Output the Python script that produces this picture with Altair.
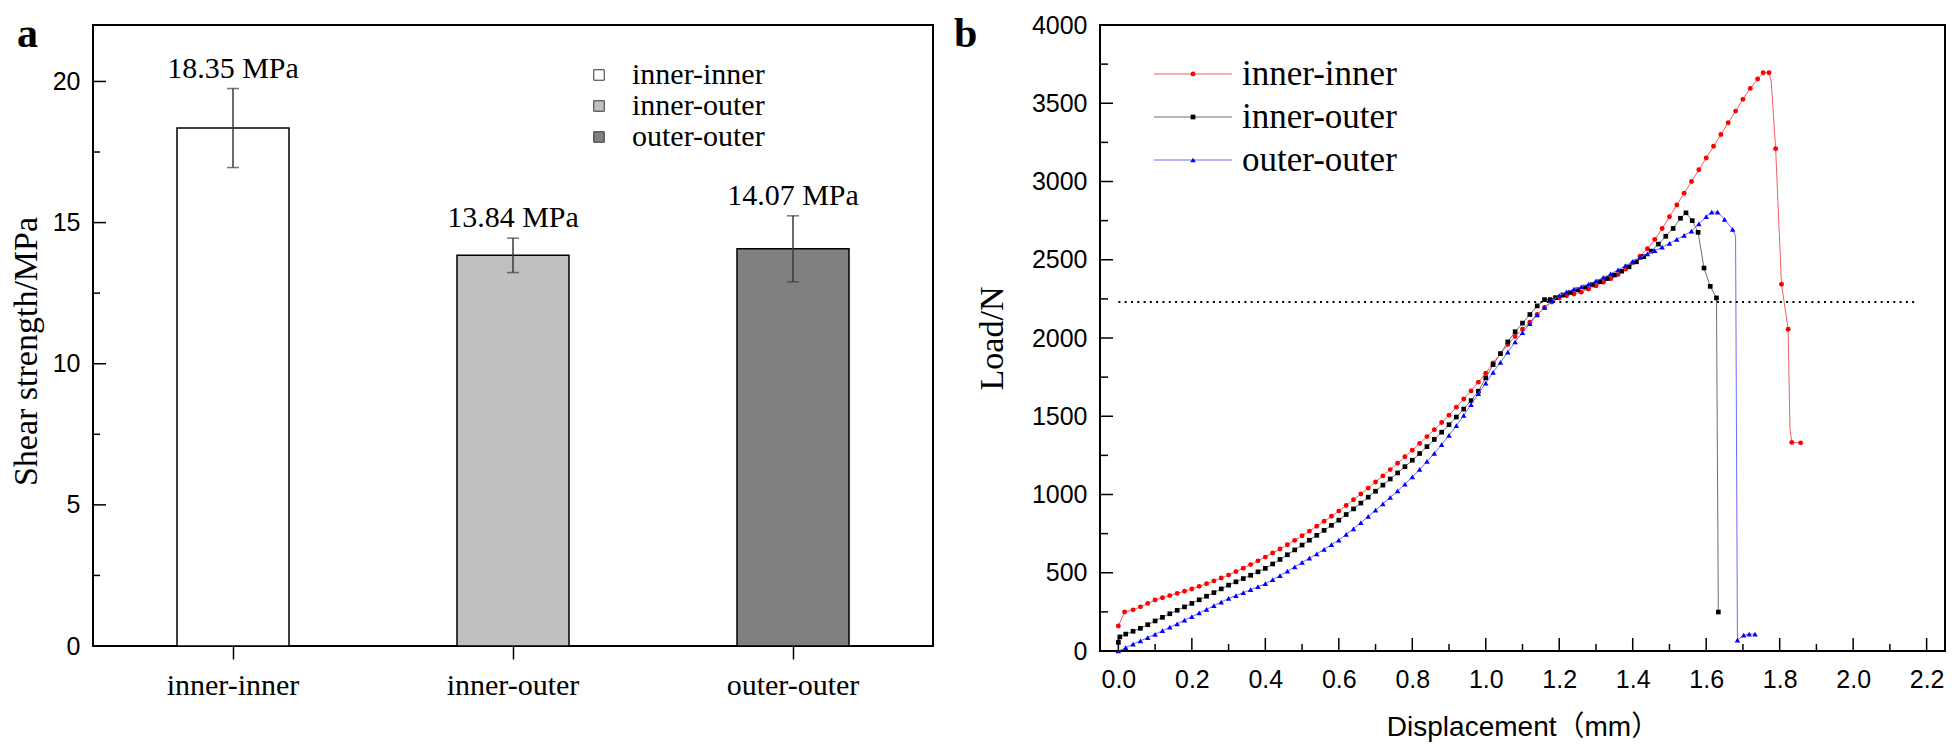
import altair as alt
import pandas as pd

SERIF = "Liberation Serif"
SANS = "Liberation Sans, Noto Sans CJK SC"

# ---------------- panel a data ----------------
categories = ["inner-inner", "inner-outer", "outer-outer"]
shear_strength = [18.35, 13.84, 14.07]
shear_error = [1.40, 0.61, 1.17]
bar_colors = ["#ffffff", "#c0c0c0", "#808080"]
value_labels = ["18.35 MPa", "13.84 MPa", "14.07 MPa"]
a_major_ticks = [0, 5, 10, 15, 20]
a_minor_ticks = [2.5, 7.5, 12.5, 17.5]

# ---------------- panel b data ----------------
ii_x = [0.000, 0.017, 0.04, 0.06, 0.08, 0.10, 0.12, 0.14, 0.16, 0.18, 0.20, 0.22, 0.24, 0.26, 0.28,
        0.30, 0.32, 0.34, 0.36, 0.38, 0.40, 0.42, 0.44, 0.46, 0.48, 0.50, 0.52, 0.54, 0.56, 0.58,
        0.60, 0.62, 0.64, 0.66, 0.68, 0.70, 0.72, 0.74, 0.76, 0.78, 0.80, 0.82, 0.84, 0.86, 0.88,
        0.90, 0.92, 0.94, 0.96, 0.98, 1.00, 1.02, 1.04, 1.06, 1.08, 1.10, 1.12, 1.14, 1.16, 1.18,
        1.20, 1.22, 1.24, 1.26, 1.28, 1.30, 1.32, 1.34, 1.36, 1.38, 1.40, 1.42, 1.44, 1.46, 1.48,
        1.50, 1.52, 1.54, 1.56, 1.58, 1.60, 1.62, 1.64, 1.66, 1.68, 1.70, 1.72, 1.74, 1.755, 1.771,
        1.789, 1.805, 1.823, 1.833, 1.857]
ii_load = [160, 249, 263, 282, 304, 326, 340, 354, 368, 382, 396, 413, 430, 448, 466,
           485, 507, 529, 552, 576, 600, 626, 652, 679, 707, 736, 766, 797, 829, 861,
           894, 930, 966, 1003, 1041, 1080, 1119, 1159, 1200, 1241, 1283, 1326, 1370, 1414, 1460,
           1506, 1558, 1610, 1662, 1718, 1775, 1840, 1900, 1958, 2010, 2056, 2101, 2150, 2195, 2230,
           2255, 2270, 2281, 2293, 2313, 2333, 2356, 2379, 2405, 2440, 2480, 2523, 2570, 2630, 2700,
           2775, 2850, 2925, 3000, 3075, 3150, 3225, 3300, 3375, 3450, 3525, 3595, 3655, 3695, 3695,
           3210, 2343, 2056, 1333, 1330]
ii_bend_x = [1.777, 1.828]
ii_bend_load = [3640, 1420]

io_x = [0.000, 0.004, 0.02, 0.04, 0.06, 0.08, 0.10, 0.12, 0.14, 0.16, 0.18, 0.20, 0.22, 0.24, 0.26,
        0.28, 0.30, 0.32, 0.34, 0.36, 0.38, 0.40, 0.42, 0.44, 0.46, 0.48, 0.50, 0.52, 0.54, 0.56,
        0.58, 0.60, 0.62, 0.64, 0.66, 0.68, 0.70, 0.72, 0.74, 0.76, 0.78, 0.80, 0.82, 0.84, 0.86,
        0.88, 0.90, 0.92, 0.94, 0.96, 0.98, 1.00, 1.02, 1.04, 1.06, 1.08, 1.10, 1.12, 1.14, 1.16,
        1.175, 1.19, 1.21, 1.23, 1.25, 1.27, 1.29, 1.31, 1.33, 1.35, 1.37, 1.39, 1.41, 1.43, 1.45,
        1.47, 1.49, 1.51, 1.53, 1.545, 1.562, 1.578, 1.594, 1.611, 1.628, 1.633]
io_load = [55, 90, 108, 126, 145, 168, 192, 215, 238, 260, 282, 304, 327, 350, 373,
           397, 421, 442, 463, 484, 506, 528, 556, 585, 615, 646, 677, 708, 739, 771,
           803, 836, 872, 908, 945, 983, 1021, 1060, 1099, 1138, 1178, 1219, 1262, 1306, 1352,
           1398, 1446, 1495, 1546, 1600, 1660, 1745, 1830, 1900, 1975, 2040, 2095, 2150, 2205, 2245,
           2245, 2258, 2275, 2292, 2308, 2325, 2342, 2360, 2380, 2402, 2427, 2455, 2487, 2520, 2555,
           2600, 2650, 2700, 2765, 2800, 2750, 2675, 2447, 2330, 2256, 249]

oo_x = [0.00, 0.02, 0.04, 0.06, 0.08, 0.10, 0.12, 0.14, 0.16, 0.18, 0.20, 0.22, 0.24, 0.26, 0.28,
        0.30, 0.32, 0.34, 0.36, 0.38, 0.40, 0.42, 0.44, 0.46, 0.48, 0.50, 0.52, 0.54, 0.56, 0.58,
        0.60, 0.62, 0.64, 0.66, 0.68, 0.70, 0.72, 0.74, 0.76, 0.78, 0.80, 0.82, 0.84, 0.86, 0.88,
        0.90, 0.92, 0.94, 0.96, 0.98, 1.00, 1.02, 1.04, 1.06, 1.08, 1.10, 1.12, 1.14, 1.16, 1.18,
        1.20, 1.22, 1.24, 1.26, 1.28, 1.30, 1.32, 1.34, 1.36, 1.38, 1.40, 1.42, 1.44, 1.46, 1.48,
        1.50, 1.52, 1.54, 1.56, 1.58, 1.60, 1.615, 1.631, 1.650, 1.672, 1.685, 1.702, 1.717, 1.733]
oo_load = [0, 22, 44, 65, 86, 107, 130, 152, 174, 197, 219, 243, 266, 290, 313,
           336, 354, 373, 392, 411, 430, 456, 482, 510, 538, 566, 593, 621, 650, 679,
           709, 745, 781, 820, 860, 900, 940, 981, 1023, 1067, 1112, 1161, 1211, 1263, 1319,
           1378, 1440, 1505, 1575, 1645, 1712, 1780, 1845, 1910, 1975, 2035, 2092, 2148, 2195, 2238,
           2270, 2295, 2312, 2327, 2345, 2365, 2387, 2410, 2435, 2462, 2490, 2515, 2538, 2558, 2580,
           2605, 2630, 2655, 2683, 2730, 2775, 2805, 2805, 2758, 2694, 70, 102, 108, 108]
oo_bend_x = [1.680]
oo_bend_load = [2650]

series_names = ["inner-inner", "inner-outer", "outer-outer"]
line_colors = ["#f06060", "#707070", "#6a6aff"]
marker_colors = ["#ff0000", "#000000", "#0000ff"]
marker_shapes = ["circle", "square", "triangle-up"]
marker_sizes = [24, 22, 30]

ref_load = 2230
ref_x = [0.0, 2.17]

b_x_major = [0.0, 0.2, 0.4, 0.6, 0.8, 1.0, 1.2, 1.4, 1.6, 1.8, 2.0, 2.2]
b_x_minor = [0.1, 0.3, 0.5, 0.7, 0.9, 1.1, 1.3, 1.5, 1.7, 1.9, 2.1]
b_y_major = [0, 500, 1000, 1500, 2000, 2500, 3000, 3500, 4000]
b_y_minor = [250, 750, 1250, 1750, 2250, 2750, 3250, 3750]

TAG_SIZE = 42
TAG_Y = 22

# ---------------- panel a ----------------
WA, HA = 840, 621
dfa = pd.DataFrame({"cat": categories, "v": shear_strength, "e": shear_error, "lab": value_labels})
dfa["lo"] = dfa["v"] - dfa["e"]
dfa["hi"] = dfa["v"] + dfa["e"]

xa = alt.X("cat:N", sort=categories,
           scale=alt.Scale(paddingInner=0.6, paddingOuter=0.3),
           axis=alt.Axis(title=None, labelAngle=0, labelFont=SERIF, labelFontSize=30,
                         labelColor="black", tickSize=13, tickWidth=1.5, tickColor="black",
                         domain=False, labelPadding=11))
ya_scale = alt.Scale(domain=[0, 22], nice=False)

bars = alt.Chart(dfa).mark_bar(stroke="black", strokeWidth=1.5).encode(
    x=xa,
    y=alt.Y("v:Q", scale=ya_scale,
            axis=alt.Axis(values=a_major_ticks, ticks=False, tickSize=0, domain=False, grid=False,
                          labelFont=SANS, labelFontSize=25, labelColor="black", labelPadding=13,
                          title="Shear strength/MPa", titleFont=SERIF, titleFontSize=34,
                          titleFontWeight="normal", titleColor="black", titlePadding=9,
                          titleY=326)),
    fill=alt.Fill("cat:N", sort=categories,
                  scale=alt.Scale(domain=categories, range=bar_colors),
                  legend=alt.Legend(orient="none", legendX=491, legendY=35, title=None,
                                    symbolType="square", symbolSize=110,
                                    symbolStrokeColor="#333333", symbolStrokeWidth=1,
                                    labelFont=SERIF, labelFontSize=30, labelColor="black",
                                    rowPadding=1, padding=0, labelOffset=18)),
)
err_rule = alt.Chart(dfa).mark_rule(color="#3a3a3a", strokeWidth=1.5).encode(
    x=alt.X("cat:N", sort=categories), y="lo:Q", y2="hi:Q")
cap_hi = alt.Chart(dfa).mark_tick(color="#3a3a3a", thickness=1.5, size=12).encode(
    x=alt.X("cat:N", sort=categories), y="hi:Q")
cap_lo = alt.Chart(dfa).mark_tick(color="#3a3a3a", thickness=1.5, size=12).encode(
    x=alt.X("cat:N", sort=categories), y="lo:Q")
val_text = alt.Chart(dfa).mark_text(font=SERIF, fontSize=30, baseline="alphabetic", dy=-11,
                                    color="black").encode(
    x=alt.X("cat:N", sort=categories), y="hi:Q", text="lab:N")
a_maj = alt.Chart(pd.DataFrame({"t": a_major_ticks})).mark_rule(color="black", strokeWidth=1.5).encode(
    y="t:Q", x=alt.value(0), x2=alt.value(13))
a_min = alt.Chart(pd.DataFrame({"t": a_minor_ticks})).mark_rule(color="black", strokeWidth=1.5).encode(
    y="t:Q", x=alt.value(0), x2=alt.value(7))
a_tag = alt.Chart(pd.DataFrame({"t": ["a"]})).mark_text(
    font=SERIF, fontSize=TAG_SIZE, fontWeight="bold", align="left", baseline="alphabetic",
    color="black").encode(text="t:N", x=alt.value(-76), y=alt.value(TAG_Y))

panel_a = alt.layer(bars, err_rule, cap_hi, cap_lo, val_text, a_maj, a_min, a_tag).properties(
    width=WA, height=HA)

# ---------------- panel b ----------------
WB, HB = 845, 626
xb_scale = alt.Scale(domain=[-0.05, 2.25], nice=False, zero=False)
yb_scale = alt.Scale(domain=[0, 4000], nice=False)
xb_axis = alt.Axis(values=b_x_major, format=".1f", ticks=False, tickSize=0, domain=False, grid=False,
                   labelFont=SANS, labelFontSize=25, labelColor="black", labelPadding=16,
                   labelFlush=False, labelOverlap=False,
                   title="Displacement（mm）", titleFont=SANS, titleFontSize=28,
                   titleFontWeight="normal", titleColor="black", titlePadding=21)
yb_axis = alt.Axis(values=b_y_major, format="d", ticks=False, tickSize=0, domain=False, grid=False,
                   labelFont=SANS, labelFontSize=25, labelColor="black", labelPadding=13,
                   labelFlush=False, labelOverlap=False,
                   title="Load/N", titleFont=SERIF, titleFontSize=34, titleFontWeight="normal",
                   titleColor="black", titlePadding=22)

all_series = [
    (ii_x, ii_load, ii_bend_x, ii_bend_load),
    (io_x, io_load, [], []),
    (oo_x, oo_load, oo_bend_x, oo_bend_load),
]

b_layers = []
first = True
for k, (sx, sy, bx, by) in enumerate(all_series):
    pts = pd.DataFrame({"x": sx, "load": sy})
    line_df = pd.DataFrame({"x": list(sx) + list(bx), "load": list(sy) + list(by)})
    line_df = line_df.sort_values("x").reset_index(drop=True)
    line_df["i"] = range(len(line_df))
    if first:
        xe = alt.X("x:Q", scale=xb_scale, axis=xb_axis)
        ye = alt.Y("load:Q", scale=yb_scale, axis=yb_axis)
        first = False
    else:
        xe = alt.X("x:Q")
        ye = alt.Y("load:Q")
    b_layers.append(alt.Chart(line_df).mark_line(color=line_colors[k], strokeWidth=1).encode(
        x=xe, y=ye, order="i:Q"))
    b_layers.append(alt.Chart(pts).mark_point(shape=marker_shapes[k], filled=True, opacity=1,
                                              size=marker_sizes[k], color=marker_colors[k]).encode(
        x="x:Q", y="load:Q"))

ref_line = alt.Chart(pd.DataFrame({"x": [ref_x[0]], "x2": [ref_x[1]], "load": [ref_load]})).mark_rule(
    color="black", strokeWidth=2, strokeDash=[2, 4.3]).encode(x="x:Q", x2="x2:Q", y="load:Q")

bx_maj = alt.Chart(pd.DataFrame({"t": b_x_major})).mark_rule(color="black", strokeWidth=1.5).encode(
    x="t:Q", y=alt.value(HB), y2=alt.value(HB - 13))
bx_min = alt.Chart(pd.DataFrame({"t": b_x_minor})).mark_rule(color="black", strokeWidth=1.5).encode(
    x="t:Q", y=alt.value(HB), y2=alt.value(HB - 7))
by_maj = alt.Chart(pd.DataFrame({"t": b_y_major})).mark_rule(color="black", strokeWidth=1.5).encode(
    y="t:Q", x=alt.value(0), x2=alt.value(13))
by_min = alt.Chart(pd.DataFrame({"t": b_y_minor})).mark_rule(color="black", strokeWidth=1.5).encode(
    y="t:Q", x=alt.value(0), x2=alt.value(8))

legend_rows = [49, 92, 135]
leg_layers = []
for k, name in enumerate(series_names):
    yy = legend_rows[k]
    one = pd.DataFrame({"n": [name]})
    leg_layers.append(alt.Chart(one).mark_rule(color=line_colors[k], strokeWidth=1.2).encode(
        x=alt.value(54), x2=alt.value(132), y=alt.value(yy)))
    leg_layers.append(alt.Chart(one).mark_point(shape=marker_shapes[k], filled=True, opacity=1,
                                                size=marker_sizes[k], color=marker_colors[k]).encode(
        x=alt.value(93), y=alt.value(yy)))
    leg_layers.append(alt.Chart(one).mark_text(font=SERIF, fontSize=35, align="left", baseline="middle",
                                               color="black").encode(
        text="n:N", x=alt.value(142), y=alt.value(yy)))

b_tag = alt.Chart(pd.DataFrame({"t": ["b"]})).mark_text(
    font=SERIF, fontSize=TAG_SIZE, fontWeight="bold", align="left", baseline="alphabetic",
    color="black").encode(text="t:N", x=alt.value(-146), y=alt.value(TAG_Y))

panel_b = alt.layer(*b_layers, ref_line, bx_maj, bx_min, by_maj, by_min, *leg_layers, b_tag).properties(
    width=WB, height=HB)

chart = alt.hconcat(panel_a, panel_b, spacing=19).resolve_scale(
    x="independent", y="independent", fill="independent"
).properties(
    padding={"left": 0, "top": 4, "right": 0, "bottom": 0}, background="white"
).configure_view(
    stroke="black", strokeWidth=2
)

chart.save("out.html", embed_options={"renderer": "svg", "actions": False})
